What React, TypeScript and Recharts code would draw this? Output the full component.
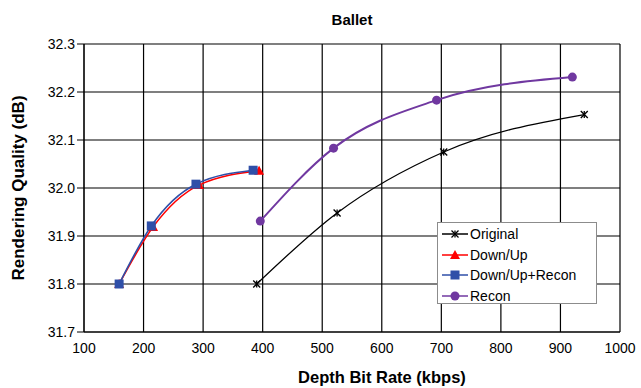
import React from 'react';
import { LineChart, Line, XAxis, YAxis, CartesianGrid } from 'recharts';

const xTicks = [100, 200, 300, 400, 500, 600, 700, 800, 900, 1000];
const yTicks = [31.7, 31.8, 31.9, 32.0, 32.1, 32.2, 32.3];

const originalRate = [390, 525, 704, 940];
const originalQuality = [31.8, 31.948, 32.075, 32.153];

const downUpRate = [159, 216, 293, 394];
const downUpQuality = [31.8, 31.919, 32.006, 32.036];

const downUpReconRate = [159, 213, 288, 384];
const downUpReconQuality = [31.8, 31.921, 32.008, 32.037];

const reconRate = [396, 519, 692, 920];
const reconQuality = [31.931, 32.083, 32.183, 32.231];

const toPoints = (xs: number[], ys: number[]) => xs.map((x, i) => ({ x, y: ys[i] }));

const FONT = 'Arial, "Liberation Sans", sans-serif';

type MarkerKind = 'star' | 'triangle' | 'square' | 'circle';

const drawMarker = (kind: MarkerKind, cx: number, cy: number, color: string, key?: string) => {
  switch (kind) {
    case 'star':
      return (
        <g key={key}>
          <line x1={cx - 3.5} y1={cy - 3.5} x2={cx + 3.5} y2={cy + 3.5} stroke={color} strokeWidth={1.3} />
          <line x1={cx - 3.5} y1={cy + 3.5} x2={cx + 3.5} y2={cy - 3.5} stroke={color} strokeWidth={1.3} />
          <line x1={cx} y1={cy - 3.5} x2={cx} y2={cy + 3.5} stroke={color} strokeWidth={1.3} />
        </g>
      );
    case 'triangle':
      return <polygon key={key} points={`${cx},${cy - 5} ${cx + 5},${cy + 4} ${cx - 5},${cy + 4}`} fill={color} />;
    case 'square':
      return <rect key={key} x={cx - 4.5} y={cy - 4.5} width={9} height={9} fill={color} />;
    default:
      return <circle key={key} cx={cx} cy={cy} r={4.5} fill={color} />;
  }
};

const series = [
  { name: 'Original', color: '#000000', marker: 'star' as MarkerKind, data: toPoints(originalRate, originalQuality), width: 1.3 },
  { name: 'Down/Up', color: '#ff0000', marker: 'triangle' as MarkerKind, data: toPoints(downUpRate, downUpQuality), width: 1.6 },
  { name: 'Down/Up+Recon', color: '#2f4fa8', marker: 'square' as MarkerKind, data: toPoints(downUpReconRate, downUpReconQuality), width: 1.6 },
  { name: 'Recon', color: '#7038a0', marker: 'circle' as MarkerKind, data: toPoints(reconRate, reconQuality), width: 2 },
];

const LegendBox = () => (
  <div
    style={{
      position: 'absolute',
      left: 437,
      top: 222,
      width: 160,
      height: 82,
      background: '#fff',
      border: '1px solid #8c8c8c',
      boxSizing: 'border-box',
      paddingTop: 1,
      fontFamily: FONT,
      fontSize: 14,
    }}
  >
    {series.map((s) => (
      <div key={s.name} style={{ display: 'flex', alignItems: 'center', height: 20.5 }}>
        <svg width={30} height={12} style={{ marginLeft: 2 }}>
          <line x1={2} y1={6} x2={28} y2={6} stroke={s.color} strokeWidth={1.5} />
          {drawMarker(s.marker, 15, 6, s.color)}
        </svg>
        <span style={{ color: '#000' }}>{s.name}</span>
      </div>
    ))}
  </div>
);

const App = () => {
  return (
    <div style={{ position: 'absolute', left: 0, top: 0, width: 641, height: 388, background: '#fff' }}>
      <div
        style={{
          position: 'absolute',
          top: 11,
          left: 84,
          width: 536,
          textAlign: 'center',
          fontFamily: FONT,
          fontWeight: 'bold',
          fontSize: 15,
        }}
      >
        Ballet
      </div>
      <LineChart width={641} height={388} margin={{ top: 44, right: 21, left: 0, bottom: 0 }}>
        <CartesianGrid stroke="#000" strokeWidth={1.2} horizontalValues={yTicks} verticalValues={xTicks} />
        <XAxis
          type="number"
          dataKey="x"
          domain={[100, 1000]}
          ticks={xTicks}
          allowDataOverflow
          height={56}
          stroke="#000"
          tickLine={false}
          tickSize={9}
          tick={{ fontSize: 14, fill: '#000', fontFamily: FONT }}
        />
        <YAxis
          type="number"
          dataKey="y"
          domain={[31.7, 32.3]}
          ticks={yTicks}
          allowDataOverflow
          width={84}
          stroke="#000"
          tickSize={7}
          tickFormatter={(v: number) => v.toFixed(1)}
          tick={{ fontSize: 14, fill: '#000', fontFamily: FONT }}
          label={{
            value: 'Rendering Quality (dB)',
            angle: -90,
            position: 'insideLeft',
            offset: 18,
            style: { textAnchor: 'middle', fontSize: 17, fontWeight: 'bold', fill: '#000', fontFamily: FONT },
          }}
        />
        {series.map((s) => (
          <Line
            key={s.name}
            data={s.data}
            dataKey="y"
            name={s.name}
            type="monotone"
            stroke={s.color}
            strokeWidth={s.width}
            isAnimationActive={false}
            dot={(p: any) => drawMarker(s.marker, p.cx, p.cy, s.color, `${s.name}-${p.index}`)}
            activeDot={false}
          />
        ))}
      </LineChart>
      <div
        style={{
          position: 'absolute',
          top: 368,
          left: 282,
          width: 200,
          textAlign: 'center',
          fontFamily: FONT,
          fontWeight: 'bold',
          fontSize: 16.5,
        }}
      >
        Depth Bit Rate (kbps)
      </div>
      <LegendBox />
    </div>
  );
};

export default App;
